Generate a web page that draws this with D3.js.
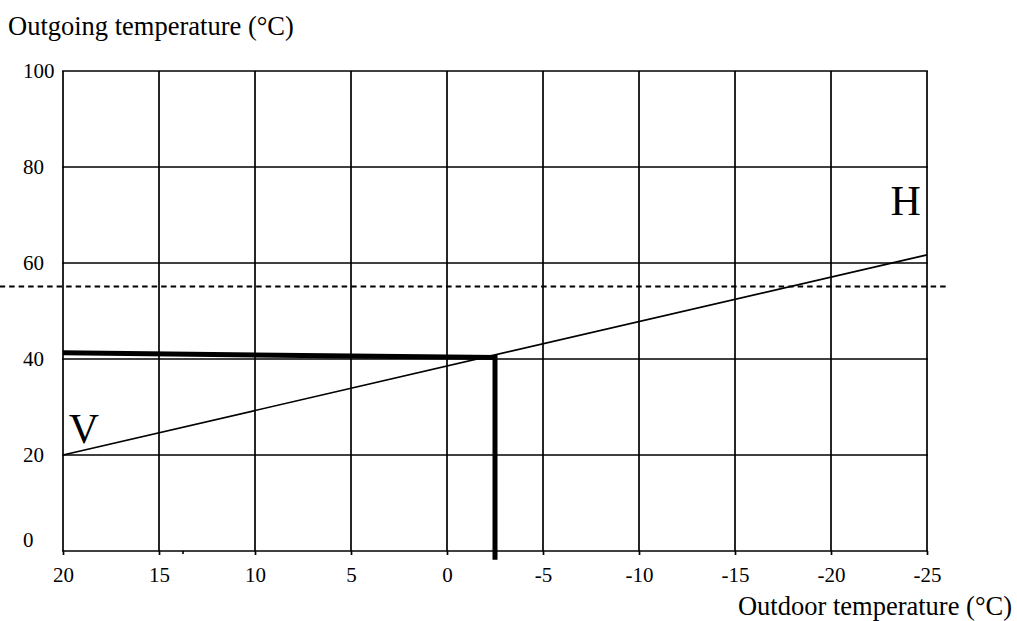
<!DOCTYPE html>
<html><head><meta charset="utf-8">
<script src="https://cdn.jsdelivr.net/npm/d3@7"></script>
<style>
html,body{margin:0;padding:0;background:#fff;}
text{font-family:"Liberation Serif","Times New Roman",serif;fill:#000;}
</style></head>
<body>
<script>
// ---- data ----
const xTicks = [20, 15, 10, 5, 0, -5, -10, -15, -20, -25];
const yTicks = [0, 20, 40, 60, 80, 100];
const heatingCurve = [[20, 20], [-25, 61.7]];           // thin line V -> H
const limitLine = [[23.3, 55.1], [-26.1, 55.1]];         // dashed max outgoing temp
const operatingLine = [[20, 41.3], [-2.5, 40.3], [-2.5, -1.8]]; // thick line
const minorTicks = [13.75];
const curveLabels = [{t: "V", x: 19.7, y: 22.5}, {t: "H", x: -23.1, y: 70}];
const yTitle = "Outgoing temperature (°C)";
const xTitle = "Outdoor temperature (°C)";

const W = 1017, H = 621;
const svg = d3.select("body").append("svg").attr("width", W).attr("height", H);

const x = d3.scaleLinear().domain([20, -25]).range([63, 927]);
const y = d3.scaleLinear().domain([0, 100]).range([551, 71]);

// vertical grid + ticks
const gx = svg.append("g").attr("transform", `translate(0,${y(0)})`)
  .call(d3.axisBottom(x).tickValues(xTicks).tickSize(4).tickSizeOuter(0).tickFormat(d3.format("d")));
gx.select(".domain").remove();
gx.selectAll(".tick line").attr("stroke", "#000").attr("stroke-width", 1.7);
gx.selectAll(".tick text").attr("font-size", 21).attr("dy", "1.12em")
  .attr("font-family", "Liberation Serif").text(d => d < 0 ? "-" + (-d) : d);

svg.append("g").selectAll("line").data(xTicks).join("line")
  .attr("x1", d => x(d)).attr("x2", d => x(d)).attr("y1", y(100)).attr("y2", y(0))
  .attr("stroke", "#000").attr("stroke-width", 1.7);
svg.append("g").selectAll("line").data(minorTicks).join("line")
  .attr("x1", d => x(d)).attr("x2", d => x(d)).attr("y1", y(0)).attr("y2", y(0) + 3)
  .attr("stroke", "#000").attr("stroke-width", 1.6);

// horizontal grid
svg.append("g").selectAll("line").data(yTicks).join("line")
  .attr("x1", x(20) - 0.85).attr("x2", x(-25) + 0.85).attr("y1", d => y(d)).attr("y2", d => y(d))
  .attr("stroke", "#000").attr("stroke-width", 1.7);

// y labels (left aligned)
svg.append("g").selectAll("text").data(yTicks).join("text")
  .attr("x", 23).attr("y", d => y(d)).attr("dy", d => d === 0 ? "-0.2em" : "0.35em")
  .attr("font-size", 21).text(d => d);

const line = d3.line().x(d => x(d[0])).y(d => y(d[1]));

svg.append("path").datum(limitLine).attr("d", line)
  .attr("fill", "none").attr("stroke", "#000").attr("stroke-width", 1.8).attr("stroke-dasharray", "5.5,4");
svg.append("path").datum(heatingCurve).attr("d", line)
  .attr("fill", "none").attr("stroke", "#000").attr("stroke-width", 1.7);
svg.append("path").datum(operatingLine).attr("d", line)
  .attr("fill", "none").attr("stroke", "#000").attr("stroke-width", 5).attr("stroke-linejoin", "miter");

svg.append("g").selectAll("text").data(curveLabels).join("text")
  .attr("x", d => x(d.x)).attr("y", d => y(d.y)).attr("font-size", 42).text(d => d.t);

svg.append("text").attr("x", 8).attr("y", 35).attr("font-size", 26.5).text(yTitle);
svg.append("text").attr("x", 1012).attr("y", 615).attr("font-size", 26.5).attr("text-anchor", "end").text(xTitle);
</script>
</body></html>
